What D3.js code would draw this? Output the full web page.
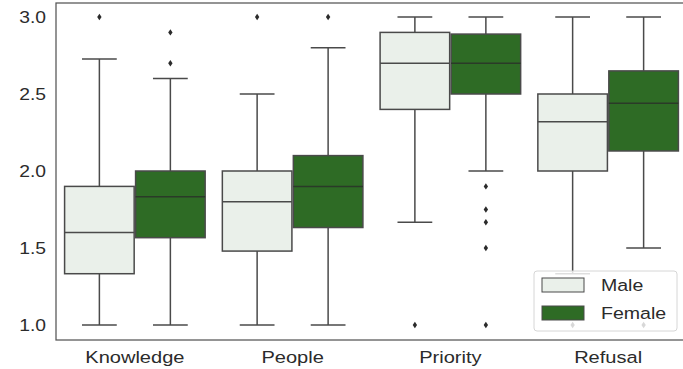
<!DOCTYPE html>
<html><head><meta charset="utf-8">
<script src="https://cdn.jsdelivr.net/npm/d3@7"></script>
<style>
body{margin:0;background:#fff;}
text{font-family:"Liberation Sans",Arial,sans-serif;}
</style></head>
<body><svg id="c" width="683" height="369"></svg>
<script>
const categories = ["Knowledge","People","Priority","Refusal"];
const groups = ["Male","Female"];
const colors = ["#eaf0ea","#2e6b25"];
// [lowerWhisker, Q1, median, Q3, upperWhisker]
const maleStats = [
  [1.0, 1.333, 1.6, 1.9, 2.727],
  [1.0, 1.48, 1.8, 2.0, 2.5],
  [1.667, 2.4, 2.7, 2.9, 3.0],
  [1.333, 2.0, 2.32, 2.5, 3.0]
];
const femaleStats = [
  [1.0, 1.567, 1.833, 2.0, 2.6],
  [1.0, 1.633, 1.9, 2.1, 2.8],
  [2.0, 2.5, 2.7, 2.889, 3.0],
  [1.5, 2.13, 2.44, 2.65, 3.0]
];
const maleOutliers = [[3.0],[3.0],[1.0],[1.0]];
const femaleOutliers = [[2.9,2.7],[3.0],[1.9,1.75,1.667,1.5,1.0],[1.0]];
const yTicks = [1.0,1.5,2.0,2.5,3.0];

const svg = d3.select("#c");
const L = 56, R = 687, T = 3, B = 340;
const x = d3.scaleBand().domain(categories).range([L,R]).paddingInner(0).paddingOuter(0);
const xs = d3.scaleBand().domain(groups).range([0, x.bandwidth()*0.9]);
// calibrated so that 3.0 -> 17px and 1.0 -> 325px
const y = d3.scaleLinear().domain([1.0 - (B-325)/154, 3.0 + (17-T)/154]).range([B, T]);

const edge = "#4a4a4a";
const statsAll = [maleStats, femaleStats];
const outAll = [maleOutliers, femaleOutliers];
const off = x.bandwidth()*0.05;

groups.forEach((g, gi) => {
  categories.forEach((c, ci) => {
    const s = statsAll[gi][ci];
    const bw = xs.bandwidth()*0.98;
    const x0 = x(c) + off + xs(g) + (xs.bandwidth()-bw)/2;
    const cx = x0 + bw/2;
    const gg = svg.append("g");
    gg.append("line").attr("x1",cx).attr("x2",cx).attr("y1",y(s[0])).attr("y2",y(s[1]))
      .attr("stroke",edge).attr("stroke-width",1.5);
    gg.append("line").attr("x1",cx).attr("x2",cx).attr("y1",y(s[3])).attr("y2",y(s[4]))
      .attr("stroke",edge).attr("stroke-width",1.5);
    [s[0], s[4]].forEach(v => {
      gg.append("line").attr("x1",cx-bw/4).attr("x2",cx+bw/4).attr("y1",y(v)).attr("y2",y(v))
        .attr("stroke",edge).attr("stroke-width",1.5);
    });
    gg.append("rect").attr("x",x0).attr("y",y(s[3])).attr("width",bw).attr("height",y(s[1])-y(s[3]))
      .attr("fill",colors[gi]).attr("stroke",edge).attr("stroke-width",1.5);
    gg.append("line").attr("x1",x0).attr("x2",x0+bw).attr("y1",y(s[2])).attr("y2",y(s[2]))
      .attr("stroke", gi===1 ? "#2a3a28" : edge).attr("stroke-width",1.5);
    outAll[gi][ci].forEach(v => {
      gg.append("path").attr("d", `M${cx},${y(v)-3.2}L${cx+2.2},${y(v)}L${cx},${y(v)+3.2}L${cx-2.2},${y(v)}Z`)
        .attr("fill","#2b2b2b");
    });
  });
});

svg.append("rect").attr("x",L).attr("y",T).attr("width",R-L).attr("height",B-T)
  .attr("fill","none").attr("stroke","#555").attr("stroke-width",1.25);

const SX = 1.15;
yTicks.forEach(t => {
  svg.append("text").attr("transform",`translate(46,${y(t)}) scale(${SX},1)`)
    .attr("dy","0.36em").attr("text-anchor","end")
    .attr("font-size","16.8px").attr("fill","#2b2b2b").text(t.toFixed(1));
});
categories.forEach(c => {
  svg.append("text").attr("transform",`translate(${x(c)+x.bandwidth()/2},363) scale(1.18,1)`)
    .attr("text-anchor","middle")
    .attr("font-size","17px").attr("fill","#2b2b2b").text(c);
});

const lg = svg.append("g");
lg.append("rect").attr("x",534).attr("y",271).attr("width",143).attr("height",60).attr("rx",3)
  .attr("fill","#fff").attr("fill-opacity",0.82).attr("stroke","#d6d6d6").attr("stroke-width",1);
groups.forEach((g, gi) => {
  const yy = 278 + gi*28;
  lg.append("rect").attr("x",542).attr("y",yy).attr("width",42).attr("height",14)
    .attr("fill",colors[gi]).attr("stroke",edge).attr("stroke-width",1);
  lg.append("text").attr("transform",`translate(601,${yy+13}) scale(${SX},1)`)
    .attr("font-size","17px").attr("fill","#2b2b2b").text(g);
});
</script></body></html>
